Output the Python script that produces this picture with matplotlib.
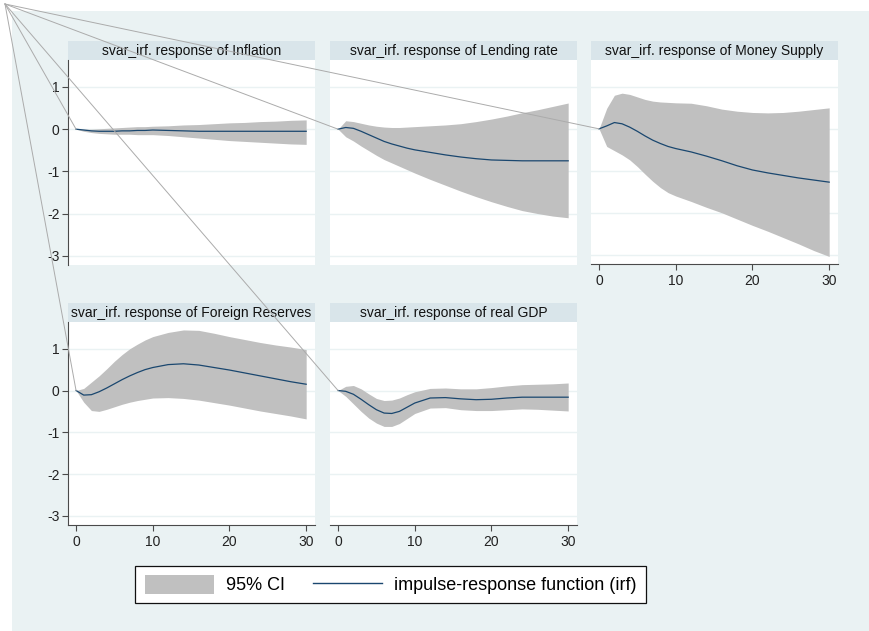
import matplotlib.pyplot as plt
from matplotlib.patches import Rectangle, Patch
from matplotlib.lines import Line2D

plt.rcParams['font.family'] = ['Liberation Sans', 'DejaVu Sans']
plt.rcParams['axes.unicode_minus'] = False

# horizon steps
steps = [0, 1, 2, 3, 4, 5, 6, 7, 8, 9, 10, 12, 14, 16, 18, 20, 22, 24, 26, 28, 30]

titles = ['svar_irf. response of Inflation',
          'svar_irf. response of Lending rate',
          'svar_irf. response of Money Supply',
          'svar_irf. response of Foreign Reserves',
          'svar_irf. response of real GDP']

inflation_irf = [0, -0.02, -0.04, -0.05, -0.05, -0.05, -0.04, -0.04, -0.03, -0.03, -0.02,
                 -0.03, -0.04, -0.05, -0.05, -0.05, -0.05, -0.05, -0.05, -0.05, -0.05]
inflation_lo = [0, -0.05, -0.08, -0.1, -0.11, -0.12, -0.12, -0.12, -0.13, -0.13, -0.13,
                -0.15, -0.18, -0.21, -0.24, -0.27, -0.29, -0.31, -0.33, -0.35, -0.36]
inflation_hi = [0, 0.0, 0.0, 0.01, 0.02, 0.03, 0.04, 0.05, 0.06, 0.06, 0.07,
                0.08, 0.1, 0.11, 0.13, 0.15, 0.16, 0.18, 0.19, 0.21, 0.22]

lending_irf = [0, 0.04, 0.02, -0.05, -0.13, -0.21, -0.29, -0.35, -0.4, -0.45, -0.49,
               -0.55, -0.61, -0.66, -0.7, -0.73, -0.74, -0.75, -0.75, -0.75, -0.75]
lending_lo = [0, -0.18, -0.28, -0.4, -0.51, -0.62, -0.72, -0.8, -0.88, -0.96, -1.04,
              -1.19, -1.33, -1.47, -1.6, -1.72, -1.83, -1.93, -2.0, -2.06, -2.1]
lending_hi = [0, 0.2, 0.18, 0.14, 0.1, 0.07, 0.05, 0.04, 0.04, 0.05, 0.06,
              0.08, 0.1, 0.13, 0.18, 0.24, 0.31, 0.39, 0.46, 0.54, 0.62]

money_irf = [0, 0.07, 0.15, 0.12, 0.04, -0.06, -0.17, -0.27, -0.35, -0.42, -0.47,
             -0.55, -0.65, -0.76, -0.88, -0.98, -1.05, -1.11, -1.17, -1.22, -1.27]
money_lo = [0, -0.42, -0.52, -0.62, -0.74, -0.9, -1.08, -1.25, -1.4, -1.52, -1.6,
            -1.73, -1.87, -2.0, -2.15, -2.3, -2.44, -2.59, -2.74, -2.9, -3.04]
money_hi = [0, 0.49, 0.8, 0.85, 0.82, 0.76, 0.7, 0.66, 0.64, 0.63, 0.62,
            0.61, 0.55, 0.47, 0.42, 0.39, 0.38, 0.39, 0.42, 0.46, 0.5]

reserves_irf = [0, -0.11, -0.1, -0.03, 0.06, 0.16, 0.26, 0.35, 0.43, 0.5, 0.55,
                0.62, 0.64, 0.61, 0.55, 0.49, 0.42, 0.35, 0.28, 0.21, 0.15]
reserves_lo = [0, -0.28, -0.48, -0.5, -0.45, -0.39, -0.33, -0.28, -0.24, -0.21, -0.18,
               -0.17, -0.19, -0.23, -0.29, -0.35, -0.42, -0.49, -0.55, -0.61, -0.68]
reserves_hi = [0, 0.05, 0.2, 0.35, 0.52, 0.7, 0.86, 1.0, 1.11, 1.21, 1.29,
               1.39, 1.45, 1.44, 1.37, 1.29, 1.22, 1.15, 1.09, 1.04, 0.98]

gdp_irf = [0, -0.02, -0.09, -0.21, -0.34, -0.46, -0.54, -0.55, -0.5, -0.4, -0.3,
           -0.18, -0.17, -0.2, -0.22, -0.21, -0.18, -0.16, -0.16, -0.16, -0.16]
gdp_lo = [0, -0.14, -0.32, -0.5, -0.66, -0.78, -0.86, -0.86, -0.79, -0.67, -0.55,
          -0.42, -0.41, -0.46, -0.48, -0.48, -0.46, -0.44, -0.45, -0.47, -0.49]
gdp_hi = [0, 0.1, 0.12, 0.04, -0.08, -0.19, -0.24, -0.23, -0.18, -0.1, -0.03,
          0.05, 0.06, 0.04, 0.04, 0.07, 0.11, 0.14, 0.15, 0.16, 0.18]

irfs = [inflation_irf, lending_irf, money_irf, reserves_irf, gdp_irf]
los = [inflation_lo, lending_lo, money_lo, reserves_lo, gdp_lo]
his = [inflation_hi, lending_hi, money_hi, reserves_hi, gdp_hi]

W, H = 870, 631
BG = '#EAF2F3'
STRIP = '#D9E5EA'
CI = '#C0C0C0'
NAVY = '#1A476F'
AXC = '#4A4A4A'

fig = plt.figure(figsize=(W / 100, H / 100), dpi=100)
fig.patch.set_facecolor(BG)
# white margin along the top and left edges
fig.add_artist(Rectangle((0, 1 - 11 / H), 1, 11 / H, transform=fig.transFigure,
                         facecolor='white', edgecolor='none', zorder=-10))
fig.add_artist(Rectangle((0, 0), 12 / W, 1, transform=fig.transFigure,
                         facecolor='white', edgecolor='none', zorder=-10))

# plot region corners in pixels (left, top, height)
boxes = [(68, 60, 205), (330, 60, 205), (591, 60, 204), (68, 322, 203), (330, 322, 203)]
pw = 247

axes = []
for i, (l, t, h) in enumerate(boxes):
    ax = fig.add_axes([l / W, 1 - (t + h) / H, pw / W, h / H])
    ax.set_facecolor('white')
    ax.fill_between(steps, los[i], his[i], color=CI, lw=0, zorder=2)
    ax.plot(steps, irfs[i], color=NAVY, lw=0.9, zorder=3)
    ax.set_xlim(-1.05, 31.15)
    ax.set_ylim(-3.22, 1.64)
    ax.set_yticks([-3, -2, -1, 0, 1])
    ax.set_xticks([0, 10, 20, 30])
    ax.yaxis.grid(True, color=BG, lw=1.0)
    ax.set_axisbelow(True)
    for s in ['top', 'right', 'left', 'bottom']:
        ax.spines[s].set_visible(False)
    show_left = i in (0, 3)
    show_bottom = i in (2, 3, 4)
    if show_left:
        ax.spines['left'].set_visible(True)
        ax.spines['left'].set_color(AXC)
    if show_bottom:
        ax.spines['bottom'].set_visible(True)
        ax.spines['bottom'].set_color(AXC)
    ax.tick_params(axis='y', left=show_left, labelleft=show_left, length=4,
                   width=0.8, color=AXC, pad=2, labelsize=10, labelcolor='#222222')
    ax.tick_params(axis='x', bottom=show_bottom, labelbottom=show_bottom, length=4,
                   width=0.8, color=AXC, pad=3, labelsize=10, labelcolor='#222222')
    ax.add_patch(Rectangle((0, 1), 1, 19 / h, transform=ax.transAxes, clip_on=False,
                           facecolor=STRIP, edgecolor='none'))
    ax.text(0.5, 1 + 9.5 / h, titles[i], transform=ax.transAxes, ha='center',
            va='center', fontsize=10, color='#111111')
    axes.append(ax)

# stray grey lines from the top-left corner to each panel's starting point
inv = fig.transFigure.inverted()
for i, ax in enumerate(axes):
    px, py = inv.transform(ax.transData.transform((steps[0], irfs[i][0])))
    fig.add_artist(Line2D([5 / W, px], [1 - 4 / H, py], transform=fig.transFigure,
                          color='#ABABAB', lw=0.7, zorder=5))

handles = [Patch(facecolor=CI, edgecolor='none'),
           Line2D([], [], color=NAVY, lw=1.0)]
leg = fig.legend(handles, ['95% CI', 'impulse-response function (irf)'],
                 loc='center', bbox_to_anchor=(390.5 / W, 1 - 584.5 / H), ncol=2,
                 fontsize=13, frameon=True, fancybox=False, framealpha=1,
                 edgecolor='#111111', handlelength=3.83, handleheight=1.22,
                 handletextpad=0.67, columnspacing=1.55, borderpad=0.5,
                 borderaxespad=0)
leg.get_frame().set_linewidth(0.9)

fig.savefig('out.png', dpi=100)
